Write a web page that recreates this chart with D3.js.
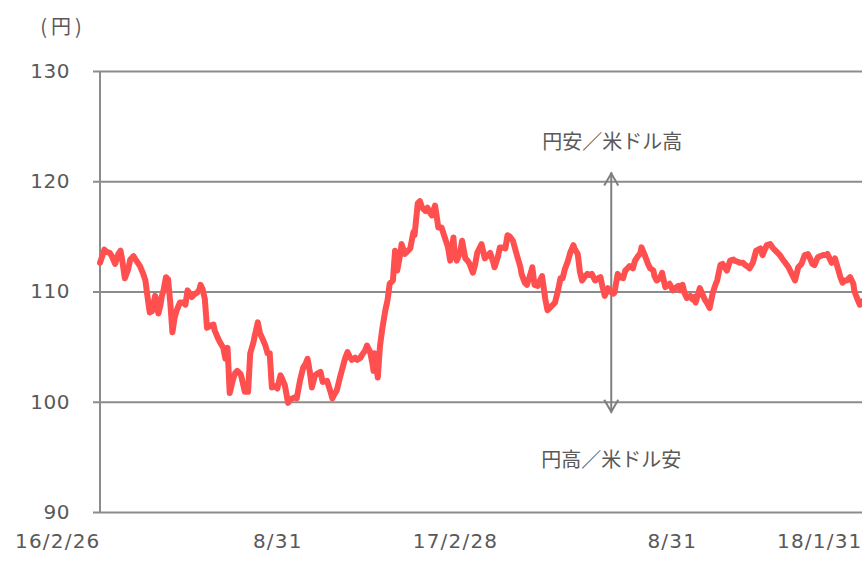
<!DOCTYPE html>
<html><head><meta charset="utf-8">
<script src="https://cdn.jsdelivr.net/npm/d3@7"></script>
<style>
html,body{margin:0;padding:0;background:#fff;}
svg{display:block;}
</style></head>
<body>
<svg id="chart" width="862" height="565"></svg>
<script>
// ---- data ----
const startDate = "2016-02-26";
const endDate = "2018-01-31";
// days elapsed since startDate for each observation
const dayOffsets = [0,4,6,9,11,14,17,19,20,23,26,28,31,33,37,40,42,44,46,48,51,54,56,57,59,61,63,65,67,69,71,74,77,79,81,83,85,88,90,92,93,95,97,99,102,105,106,109,111,114,116,117,118,120,123,125,127,130,131,134,137,139,142,143,146,148,150,153,155,157,159,162,164,167,168,171,174,176,178,180,182,185,188,190,192,194,196,199,202,204,206,210,213,215,217,219,222,225,227,229,231,233,236,238,241,242,245,247,250,252,253,254,257,259,261,264,266,268,271,273,275,278,279,282,285,287,290,291,294,296,298,301,303,305,307,310,313,316,319,322,324,327,328,330,333,335,338,340,342,345,347,349,352,353,356,359,361,364,365,368,370,372,375,377,379,382,386,389,390,393,395,398,400,402,405,407,409,412,414,416,419,421,424,426,428,430,433,435,438,439,442,444,446,449,451,453,455,458,461,463,465,467,470,472,475,476,479,481,484,486,489,490,493,495,497,500,501,504,507,509,512,513,515,518,520,523,526,527,530,532,535,537,539,541,543,546,548,550,551,555,558,560,562,564,567,569,571,574,576,578,580,583,586,587,590,592,595,597,600,601,604,607,609,611,613,615,617,620,623,624,627,629,631,634,637,638,640,643,646,648,649,652,655,657,659,661,664,666,669,672,673,675,677,680,683,685,687,689,691,694,697,698,700,703,705];
// USD/JPY rate (yen)
const rates = [112.6,113.8,113.6,113.5,113.2,112.5,113.4,113.7,113.2,111.2,112.0,112.9,113.2,112.9,112.3,111.6,111.0,109.5,108.1,108.2,109.6,108.0,108.8,109.5,110.2,111.3,111.1,109.0,106.3,107.6,108.3,109.0,109.0,108.8,110.1,109.8,109.5,109.8,109.9,110.2,110.6,110.2,109.3,106.7,106.9,107.0,106.5,105.8,105.4,104.9,103.9,104.6,104.9,100.8,102.0,102.6,102.8,102.5,102.2,100.9,100.9,104.4,105.4,105.9,107.2,106.2,105.8,105.1,104.4,104.4,101.3,101.4,101.2,102.4,102.2,101.5,99.9,100.2,100.3,100.4,100.3,101.9,103.1,103.4,103.9,102.8,101.3,102.4,102.6,102.7,101.8,101.9,101.0,100.3,100.7,101.0,102.2,103.3,104.0,104.5,104.1,103.8,104.0,103.8,104.0,104.2,104.6,105.1,104.5,103.5,102.8,104.4,102.2,105.0,106.5,108.3,109.2,110.7,111.0,113.7,111.9,113.5,114.3,113.4,113.7,113.9,115.4,115.1,118.0,118.2,117.6,117.3,117.6,117.2,116.9,117.8,115.8,115.8,114.9,114.0,112.8,114.9,113.6,112.8,113.5,114.6,113.0,112.8,112.5,111.7,112.4,113.5,114.1,114.3,113.0,113.3,113.5,112.6,112.2,113.1,114.0,114.0,113.9,115.1,115.0,114.6,113.2,112.2,111.6,110.8,110.6,111.5,112.2,110.6,110.5,111.0,111.4,109.3,108.3,108.5,108.8,109.0,110.2,111.2,111.2,112.0,112.8,113.5,114.2,113.9,113.4,111.8,111.0,111.4,111.6,111.5,111.6,111.0,111.2,111.3,110.4,109.6,110.3,110.0,109.8,109.9,111.6,111.3,111.2,111.9,112.2,112.3,112.1,112.8,113.1,113.5,114.0,113.3,112.5,112.1,111.9,111.4,111.0,111.2,111.7,110.4,110.6,110.7,110.1,110.3,110.5,110.1,110.6,109.8,109.4,109.6,109.3,109.5,109.0,110.3,109.6,109.2,108.9,108.5,109.9,110.5,111.0,112.4,112.5,112.2,111.9,112.8,112.9,112.8,112.7,112.6,112.6,112.4,112.2,112.1,112.6,113.7,113.8,113.9,113.3,113.8,114.2,114.3,113.9,113.8,113.5,113.3,113.0,112.6,112.2,112.0,111.6,111.0,112.2,112.4,112.5,113.3,113.4,113.0,112.5,112.4,113.1,113.2,113.3,113.3,113.4,113.0,112.6,113.0,112.0,111.3,110.8,111.0,111.0,111.3,110.7,110.0,109.5,108.8,109.1];
const yTicks = [90,100,110,120,130];
const xTickDates = ["2016-02-26","2016-08-31","2017-02-28","2017-08-31","2018-01-31"];
const xTickLabels = ["16/2/26","8/31","17/2/28","8/31","18/1/31"];
const unitLabel = "(円)";
const upLabel = "円安／米ドル高";
const downLabel = "円高／米ドル安";
const arrowDate = "2017-06-13";
const arrowRange = [120.8, 99.0];

// ---- chart ----
const parse = d3.utcParse("%Y-%m-%d");
const t0 = parse(startDate);
const n = Math.min(dayOffsets.length, rates.length);
const data = dayOffsets.slice(0, n).map((d, i) => ({date: d3.utcDay.offset(t0, d), value: rates[i]}));

const svg = d3.select("#chart");
const mLeft = 100, mRight = 862, mTop = 71, mBottom = 512;
const x = d3.scaleUtc().domain([t0, parse(endDate)]).range([mLeft, mRight]);
const y = d3.scaleLinear().domain([90, 130]).range([mBottom, mTop]);

const grey = "#8c8c8c";
const textCol = "#595959";

// gridlines + y labels
const yAxis = d3.axisLeft(y).tickValues(yTicks).tickSize(0).tickPadding(23).tickFormat(d3.format("d"));
const gy = svg.append("g").attr("transform", `translate(${mLeft - 7},0)`).call(yAxis);
gy.select(".domain").remove();
gy.selectAll(".tick line").attr("stroke", grey).attr("stroke-width", 2)
  .attr("x1", 0).attr("x2", mRight - mLeft + 7);
gy.selectAll(".tick text").attr("fill", textCol).attr("font-family", "DejaVu Sans, Verdana, sans-serif")
  .attr("font-size", 20).attr("letter-spacing", 0.5);

// left axis line
svg.append("line").attr("x1", mLeft).attr("x2", mLeft).attr("y1", y(130)).attr("y2", y(90))
  .attr("stroke", grey).attr("stroke-width", 2);

// x labels (right-aligned at their date)
const xAxis = d3.axisBottom(x).tickValues(xTickDates.map(parse)).tickSize(0).tickPadding(36)
  .tickFormat((d, i) => xTickLabels[i]);
const gx = svg.append("g").attr("transform", `translate(0,${mBottom})`).call(xAxis);
gx.select(".domain").remove();
gx.selectAll(".tick text").attr("text-anchor", "end").attr("fill", textCol)
  .attr("font-family", "DejaVu Sans, Verdana, sans-serif").attr("font-size", 20)
  .attr("letter-spacing", 1.2).attr("dy", "0");

// unit label
svg.append("text").attr("x", 63).attr("y", 34).attr("text-anchor", "middle")
  .attr("fill", textCol).attr("font-family", "Noto Sans CJK JP, sans-serif").attr("font-size", 20)
  .attr("letter-spacing", 4).text(unitLabel);

// annotation arrow
const ax = x(parse(arrowDate));
const yTop = y(arrowRange[0]), yBot = y(arrowRange[1]);
const ann = svg.append("g").attr("stroke", "#7f7f7f").attr("stroke-width", 2).attr("fill", "none");
ann.append("line").attr("x1", ax).attr("x2", ax).attr("y1", yTop).attr("y2", yBot);
ann.append("path").attr("d", `M${ax - 7},${yTop + 13}L${ax},${yTop + 1}L${ax + 7},${yTop + 13}`);
ann.append("path").attr("d", `M${ax - 7},${yBot - 13}L${ax},${yBot - 1}L${ax + 7},${yBot - 13}`);

svg.append("text").attr("x", ax + 1).attr("y", 149).attr("text-anchor", "middle").attr("fill", textCol)
  .attr("font-family", "Noto Sans CJK JP, sans-serif").attr("font-size", 20).text(upLabel);
svg.append("text").attr("x", ax).attr("y", 467).attr("text-anchor", "middle").attr("fill", textCol)
  .attr("font-family", "Noto Sans CJK JP, sans-serif").attr("font-size", 20).text(downLabel);

// line
const line = d3.line().x(d => x(d.date)).y(d => y(d.value)).curve(d3.curveLinear);
svg.append("path").datum(data).attr("d", line).attr("fill", "none")
  .attr("stroke", "#ff4f4f").attr("stroke-width", 6).attr("stroke-linejoin", "round").attr("stroke-linecap", "round");
</script>
</body></html>
